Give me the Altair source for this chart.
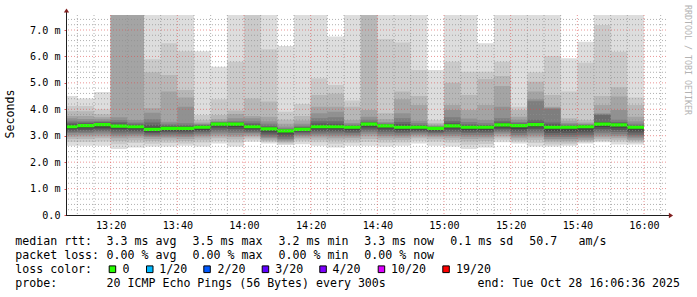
import altair as alt
import pandas as pd

# ---------------- data (values in ms) ----------------
bar_end = ["13:10", "13:15", "13:20", "13:25", "13:30", "13:35", "13:40", "13:45", "13:50", "13:55",
           "14:00", "14:05", "14:10", "14:15", "14:20", "14:25", "14:30", "14:35", "14:40", "14:45",
           "14:50", "14:55", "15:00", "15:05", "15:10", "15:15", "15:20", "15:25", "15:30", "15:35",
           "15:40", "15:45", "15:50", "15:55", "16:00"]

# 20 sorted ping round-trip times per 5-minute step
ping_1310 = [2.62, 2.76, 2.88, 2.96, 3.03, 3.10, 3.15, 3.20, 3.25, 3.30, 3.37, 3.40, 3.45, 3.50, 3.57, 3.66, 3.75, 3.93, 4.12, 4.50]
ping_1315 = [2.62, 2.76, 2.88, 2.97, 3.04, 3.10, 3.16, 3.22, 3.28, 3.35, 3.41, 3.43, 3.46, 3.50, 3.55, 3.63, 3.75, 3.93, 4.12, 4.41]
ping_1320 = [2.62, 2.78, 2.90, 2.98, 3.05, 3.12, 3.18, 3.24, 3.30, 3.39, 3.45, 3.47, 3.49, 3.52, 3.56, 3.62, 3.70, 3.81, 4.00, 4.65]
ping_1325 = [2.50, 2.68, 2.80, 2.90, 2.98, 3.05, 3.12, 3.20, 3.26, 3.33, 3.39, 3.41, 3.46, 3.52, 3.59, 3.70, 7.80, 8.00, 8.50, 9.00]
ping_1330 = [2.55, 2.72, 2.83, 2.92, 3.00, 3.06, 3.12, 3.18, 3.24, 3.31, 3.37, 3.38, 3.41, 3.45, 3.50, 3.59, 7.70, 8.10, 8.60, 9.00]
ping_1335 = [2.59, 2.70, 2.80, 2.88, 2.95, 3.00, 3.05, 3.10, 3.15, 3.21, 3.27, 3.32, 3.40, 3.50, 3.62, 3.87, 4.04, 5.40, 5.89, 8.00]
ping_1340 = [2.59, 2.72, 2.82, 2.90, 2.96, 3.02, 3.08, 3.14, 3.19, 3.25, 3.31, 3.33, 3.36, 3.40, 3.45, 3.53, 4.67, 5.30, 6.50, 8.00]
ping_1345 = [2.62, 2.71, 2.80, 2.88, 2.95, 3.01, 3.07, 3.13, 3.19, 3.25, 3.31, 3.33, 3.36, 3.40, 3.47, 4.10, 4.45, 4.73, 6.20, 8.00]
ping_1350 = [2.59, 2.74, 2.85, 2.93, 3.00, 3.06, 3.12, 3.17, 3.22, 3.29, 3.35, 3.36, 3.38, 3.40, 3.42, 3.45, 3.50, 3.59, 3.78, 6.20]
ping_1355 = [2.71, 2.80, 2.90, 2.98, 3.05, 3.12, 3.20, 3.28, 3.35, 3.41, 3.47, 3.48, 3.49, 3.50, 3.52, 3.56, 3.62, 3.78, 4.38, 5.61]
ping_1400 = [2.59, 2.74, 2.86, 2.95, 3.02, 3.10, 3.17, 3.25, 3.33, 3.41, 3.47, 3.48, 3.49, 3.52, 3.56, 3.66, 3.82, 3.95, 5.80, 8.00]
ping_1405 = [2.77, 2.86, 2.93, 2.99, 3.05, 3.10, 3.15, 3.20, 3.25, 3.31, 3.37, 3.38, 3.42, 3.47, 3.55, 3.66, 3.75, 4.41, 8.00, 8.50]
ping_1410 = [2.71, 2.76, 2.81, 2.86, 2.91, 2.96, 3.02, 3.08, 3.15, 3.23, 3.29, 3.30, 3.33, 3.38, 3.45, 3.55, 3.72, 4.29, 6.27, 8.00]
ping_1415 = [2.65, 2.70, 2.74, 2.78, 2.83, 2.88, 2.94, 3.01, 3.08, 3.15, 3.21, 3.22, 3.23, 3.25, 3.28, 3.35, 3.45, 3.60, 3.91, 6.39]
ping_1420 = [2.68, 2.78, 2.86, 2.92, 2.98, 3.03, 3.08, 3.13, 3.17, 3.21, 3.27, 3.28, 3.30, 3.33, 3.38, 3.45, 3.58, 3.75, 4.20, 8.00]
ping_1425 = [2.62, 2.75, 2.85, 2.93, 3.00, 3.06, 3.12, 3.18, 3.24, 3.31, 3.37, 3.40, 3.46, 3.55, 3.66, 3.85, 4.10, 4.54, 5.17, 8.00]
ping_1430 = [2.55, 2.70, 2.82, 2.90, 2.98, 3.05, 3.12, 3.18, 3.24, 3.31, 3.37, 3.40, 3.45, 3.55, 3.70, 3.91, 4.10, 4.60, 4.92, 6.75]
ping_1435 = [2.62, 2.73, 2.83, 2.91, 2.98, 3.04, 3.10, 3.16, 3.22, 3.29, 3.35, 3.36, 3.37, 3.39, 3.42, 3.48, 3.59, 4.10, 4.33, 8.00]
ping_1440 = [2.62, 2.76, 2.88, 2.98, 3.06, 3.13, 3.20, 3.27, 3.34, 3.41, 3.47, 3.48, 3.50, 3.53, 3.60, 3.72, 3.97, 8.00, 8.50, 9.00]
ping_1445 = [2.59, 2.73, 2.84, 2.92, 2.99, 3.06, 3.13, 3.20, 3.27, 3.34, 3.40, 3.41, 3.42, 3.44, 3.47, 3.52, 3.62, 3.85, 6.66, 8.00]
ping_1450 = [2.62, 2.74, 2.84, 2.91, 2.98, 3.04, 3.10, 3.16, 3.22, 3.29, 3.35, 3.38, 3.44, 3.52, 3.66, 3.85, 4.38, 4.67, 6.53, 8.00]
ping_1455 = [2.71, 2.81, 2.90, 2.97, 3.03, 3.08, 3.13, 3.18, 3.23, 3.29, 3.35, 3.36, 3.38, 3.41, 3.47, 3.57, 4.16, 4.50, 5.49, 8.00]
ping_1500 = [2.62, 2.77, 2.87, 2.94, 3.00, 3.05, 3.10, 3.15, 3.20, 3.26, 3.30, 3.31, 3.32, 3.33, 3.35, 3.38, 3.42, 3.48, 3.59, 5.49]
ping_1505 = [2.59, 2.73, 2.84, 2.92, 2.99, 3.06, 3.13, 3.20, 3.27, 3.34, 3.40, 3.42, 3.47, 3.55, 3.70, 3.97, 4.16, 5.00, 5.80, 8.00]
ping_1510 = [2.50, 2.66, 2.78, 2.88, 2.96, 3.03, 3.10, 3.16, 3.22, 3.29, 3.35, 3.36, 3.39, 3.43, 3.52, 3.65, 3.97, 4.54, 5.42, 8.00]
ping_1515 = [2.55, 2.69, 2.80, 2.89, 2.96, 3.03, 3.10, 3.16, 3.22, 3.29, 3.35, 3.36, 3.38, 3.41, 3.47, 3.59, 4.16, 5.15, 5.42, 6.50]
ping_1520 = [2.75, 2.85, 2.93, 3.00, 3.07, 3.13, 3.19, 3.25, 3.31, 3.38, 3.44, 3.46, 3.49, 3.55, 3.66, 4.10, 4.88, 5.26, 5.80, 8.00]
ping_1525 = [2.71, 2.77, 2.83, 2.90, 2.97, 3.03, 3.10, 3.18, 3.25, 3.35, 3.41, 3.42, 3.44, 3.47, 3.52, 3.60, 3.72, 3.97, 4.10, 8.00]
ping_1530 = [2.59, 2.72, 2.84, 2.93, 3.01, 3.09, 3.17, 3.25, 3.32, 3.39, 3.45, 3.47, 3.50, 3.60, 4.30, 4.38, 4.67, 5.04, 5.40, 8.00]
ping_1535 = [2.59, 2.67, 2.75, 2.82, 2.88, 2.95, 3.02, 3.10, 3.18, 3.28, 3.36, 3.38, 3.43, 3.50, 4.02, 4.06, 4.10, 4.54, 6.02, 8.00]
ping_1540 = [2.62, 2.68, 2.74, 2.81, 2.88, 2.95, 3.02, 3.10, 3.18, 3.29, 3.35, 3.36, 3.37, 3.39, 3.43, 3.48, 3.57, 3.66, 4.67, 5.93]
ping_1545 = [2.71, 2.75, 2.79, 2.84, 2.90, 2.97, 3.04, 3.12, 3.20, 3.31, 3.37, 3.38, 3.39, 3.40, 3.42, 3.45, 3.50, 3.59, 5.76, 6.56]
ping_1550 = [2.75, 2.80, 2.87, 2.94, 3.01, 3.09, 3.17, 3.25, 3.33, 3.41, 3.47, 3.49, 3.52, 3.78, 3.82, 3.85, 4.16, 4.50, 7.19, 8.00]
ping_1555 = [2.67, 2.77, 2.85, 2.92, 2.99, 3.06, 3.14, 3.22, 3.30, 3.38, 3.44, 3.46, 3.48, 3.52, 3.60, 3.97, 4.48, 4.83, 6.18, 8.00]
ping_1600 = [2.67, 2.73, 2.79, 2.84, 2.90, 2.97, 3.04, 3.12, 3.20, 3.29, 3.35, 3.36, 3.37, 3.40, 3.45, 3.55, 3.72, 4.16, 4.45, 8.00]

median_ms = [3.34, 3.38, 3.42, 3.36, 3.34, 3.24, 3.28, 3.28, 3.32, 3.44,
             3.44, 3.34, 3.26, 3.18, 3.24, 3.34, 3.34, 3.32, 3.44, 3.37,
             3.32, 3.32, 3.28, 3.37, 3.32, 3.32, 3.41, 3.38, 3.42, 3.32,
             3.32, 3.34, 3.44, 3.41, 3.32]

y_ticks = [0, 1, 2, 3, 4, 5, 6, 7]
x_ticks_min = [20, 40, 60, 80, 100, 120, 140, 160, 180]   # minutes after 13:00 -> 13:20 ... 16:00

loss_labels = ["0", "1/20", "2/20", "3/20", "4/20", "10/20", "19/20"]
loss_colors = ["#26ff00", "#00b8ff", "#0059ff", "#5e00ff", "#7e00ff", "#dd00ff", "#ff0000"]

pings = [ping_1310, ping_1315, ping_1320, ping_1325, ping_1330, ping_1335, ping_1340, ping_1345,
         ping_1350, ping_1355, ping_1400, ping_1405, ping_1410, ping_1415, ping_1420, ping_1425,
         ping_1430, ping_1435, ping_1440, ping_1445, ping_1450, ping_1455, ping_1500, ping_1505,
         ping_1510, ping_1515, ping_1520, ping_1525, ping_1530, ping_1535, ping_1540, ping_1545,
         ping_1550, ping_1555, ping_1600]

# ---------------- layout constants ----------------
W, H = 600, 200
PADL, PADT = 66, 15
X_DOM = [6.6, 186.6]           # 13:06:36 .. 16:06:36 in minutes after 13:00
Y_DOM = [0, 200 / (185 / 7.0)]  # 0 .. ~7.57 ms
MONO = "DejaVu Sans Mono"


def minutes(s):
    h, m = s.split(":")
    return (int(h) - 13) * 60 + int(m)


ends = [minutes(s) for s in bar_end]
starts = [e - 5 for e in ends]

x_axis = alt.Axis(values=x_ticks_min, grid=False, domain=False, ticks=False,
                  labelExpr="floor(13 + datum.value / 60) + ':' + (datum.value % 60 < 10 ? '0' : '') + (datum.value % 60)",
                  labelFont=MONO, labelFontSize=10.1, labelColor="#000000", labelPadding=5,
                  labelFlush=False, labelOverlap=False, title="")
y_axis = alt.Axis(values=y_ticks, grid=False, domain=False, ticks=True, tickSize=2,
                  tickColor="#de4f4f",
                  labelExpr="datum.value == 0 ? '0.0\u00a0\u00a0' : format(datum.value, '.1f') + '\u00a0m'",
                  labelFont=MONO, labelFontSize=10.1, labelColor="#000000", labelPadding=4,
                  labelFlush=False, labelOverlap=False, title="")
xs = alt.Scale(domain=X_DOM, nice=False, zero=False)
ys = alt.Scale(domain=Y_DOM, nice=False, zero=False)


def X(f):
    return alt.X(f"{f}:Q", scale=xs, axis=x_axis)


def Y(f):
    return alt.Y(f"{f}:Q", scale=ys, axis=y_axis)


layers = []

# smoke bands: band k spans ping k .. ping 21-k, darker towards the middle
for k in range(1, 11):
    g = int(190 / 10 * (10 - k)) + 50
    col = "#" + ("%02x" % g) * 3
    rows = [{"t": starts[i], "lo": pings[i][k - 1], "hi": pings[i][20 - k]} for i in range(len(pings))]
    rows.append({"t": ends[-1], "lo": pings[-1][k - 1], "hi": pings[-1][20 - k]})
    df = pd.DataFrame(rows)
    layers.append(alt.Chart(df).mark_area(interpolate="step-after", color=col, clip=True).encode(
        x=X("t"), y=Y("lo"), y2="hi"))

# median (loss colour, 0 loss everywhere)
half = 0.06
mrows = [{"t": starts[i], "lo": median_ms[i] - half, "hi": median_ms[i] + half} for i in range(len(median_ms))]
mrows.append({"t": ends[-1], "lo": median_ms[-1] - half, "hi": median_ms[-1] + half})
layers.append(alt.Chart(pd.DataFrame(mrows)).mark_area(interpolate="step-after", color=loss_colors[0], clip=True).encode(
    x=X("t"), y=Y("lo"), y2="hi"))

# grid
minor_h = [round(v * 0.2, 1) for v in range(1, 38) if v % 5 != 0]
major_h = [1, 2, 3, 4, 5, 6, 7]
minor_v = [m for m in range(10, 186, 5) if m % 20 != 0]
major_v = x_ticks_min
dash = [1, 2]
layers.append(alt.Chart(pd.DataFrame({"v": minor_h})).mark_rule(color="#8f8f8f", opacity=0.7, strokeDash=dash, strokeWidth=1).encode(y=Y("v")))
layers.append(alt.Chart(pd.DataFrame({"t": minor_v})).mark_rule(color="#8f8f8f", opacity=0.7, strokeDash=dash, strokeWidth=1).encode(x=X("t")))
layers.append(alt.Chart(pd.DataFrame({"v": major_h})).mark_rule(color="#de4f4f", opacity=0.6, strokeDash=dash, strokeWidth=1).encode(y=Y("v")))
layers.append(alt.Chart(pd.DataFrame({"t": major_v})).mark_rule(color="#de4f4f", opacity=0.6, strokeDash=dash, strokeWidth=1).encode(x=X("t")))

one = pd.DataFrame({"k": [0]})

# axis lines and arrows
layers.append(alt.Chart(one).mark_rule(color="#1f1f1f", strokeWidth=1).encode(
    x=alt.value(0.5), y=alt.value(H), y2=alt.value(-4)))
layers.append(alt.Chart(one).mark_rule(color="#1f1f1f", strokeWidth=1).encode(
    x=alt.value(0), x2=alt.value(W + 5), y=alt.value(H + 0.5)))
layers.append(alt.Chart(one).mark_point(shape="M-1,0.8L0,-0.8L1,0.8Z", filled=True, color="#801f1f", size=28, opacity=1).encode(
    x=alt.value(0.5), y=alt.value(-4.5)))
layers.append(alt.Chart(one).mark_point(shape="M-0.8,-1L0.8,0L-0.8,1Z", filled=True, color="#801f1f", size=28, opacity=1).encode(
    x=alt.value(W + 5), y=alt.value(H + 0.5)))


def txt(s, x, y, size=11.6, color="#000000", angle=0, align="left", baseline="alphabetic"):
    return alt.Chart(one).mark_text(text=s.replace(" ", "\u00a0"), font=MONO, fontSize=size, color=color,
                                    angle=angle, align=align, baseline=baseline).encode(
        x=alt.value(x - PADL), y=alt.value(y - PADT))


# titles
layers.append(txt("Seconds", 11, 114, angle=270, align="center", baseline="middle"))
layers.append(txt("RRDTOOL / TOBI OETIKER", 686.5, 5, size=8.3, color="#b3b3b3", angle=90, baseline="middle"))

# legend lines
L1, L2, L3, L4 = 245.2, 259.0, 272.8, 286.6
cols = [106.6, 192.6, 278.6, 364.3]
layers.append(txt("median rtt:", 15.3, L1))
for s, x in zip(["3.3 ms avg", "3.5 ms max", "3.2 ms min", "3.3 ms now"], cols):
    layers.append(txt(s, x, L1))
layers.append(txt("0.1 ms sd", 450.3, L1))
layers.append(txt("50.7", 529.3, L1))
layers.append(txt("am/s", 578.6, L1))

layers.append(txt("packet loss:", 15.3, L2))
for s, x in zip(["0.00 % avg", "0.00 % max", "0.00 % min", "0.00 % now"], cols):
    layers.append(txt(s, x, L2))

layers.append(txt("loss color:", 15.3, L3))
sq_left = [108.7, 146.0, 203.3, 261.7, 319.3, 377.7, 442.3]
lab_left = [122.6, 159.3, 217.6, 275.3, 332.6, 391.0, 456.0]
for lab, col, sx, lx in zip(loss_labels, loss_colors, sq_left, lab_left):
    layers.append(alt.Chart(one).mark_rect(fill=col, stroke="#000000", strokeWidth=1).encode(
        x=alt.value(sx + 0.5 - PADL), x2=alt.value(sx + 7.0 - PADL),
        y=alt.value(265.9 - PADT), y2=alt.value(272.6 - PADT)))
    layers.append(txt(lab, lx, L3))

layers.append(txt("probe:", 15.3, L4))
layers.append(txt("20 ICMP Echo Pings (56 Bytes) every 300s", 106.6, L4))
layers.append(txt("end: Tue Oct 28 16:06:36 2025", 477.6, L4))

chart = alt.layer(*layers).properties(
    width=W, height=H,
    padding={"left": PADL, "top": PADT, "right": 697 - PADL - W, "bottom": 297 - PADT - H},
    autosize=alt.AutoSizeParams(type="none"),
    background="#ffffff",
).configure_view(stroke="transparent")

chart.save("out.html", embed_options={"renderer": "svg", "actions": False})
